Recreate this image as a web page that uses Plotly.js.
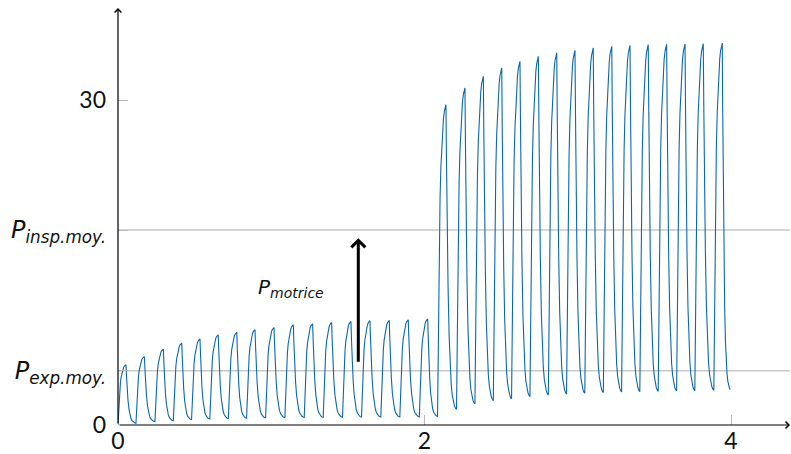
<!DOCTYPE html>
<html>
<head>
<meta charset="utf-8">
<script src="https://cdn.plot.ly/plotly-3.0.1.min.js"></script>
<style>html,body{margin:0;padding:0;background:#fff;}#chart{width:791px;height:454px;}</style>
</head>
<body>
<div id="chart"></div>
<script>
// ---- Data ----
// time of each cycle's pressure peak
const peakTimes = [0.052,0.172,0.296,0.416,0.535,0.654,0.775,0.894,1.018,1.144,1.270,1.394,1.520,1.644,1.770,1.894,2.021,
                   2.140,2.264,2.384,2.504,2.623,2.743,2.863,2.982,3.101,3.222,3.341,3.460,3.580,3.700,3.819,3.943];
// peak pressure of each cycle
const peakValues = [5.56,6.32,7.01,7.56,7.94,8.33,8.55,8.80,9.00,9.26,9.35,9.47,9.56,9.63,9.66,9.72,9.79,
                    29.57,31.12,32.19,32.97,33.58,34.04,34.35,34.59,34.81,34.96,35.05,35.12,35.15,35.18,35.21,35.26];
// pressure at the start of each cycle's rise (end of previous expiration)
const startValues = [0,0.16,0.31,0.40,0.50,0.56,0.60,0.63,0.66,0.68,0.70,0.71,0.72,0.73,0.74,0.74,0.75,
                     0.80,1.45,1.94,2.25,2.43,2.62,2.77,2.87,2.93,2.99,3.05,3.08,3.11,3.14,3.17,3.20];
const endTime = 3.995;
const endValue = 3.25;
const riseDuration = 0.055;
// normalised waveform shape of one inspiration / expiration
const riseT = [0,0.05,0.10,0.15,0.20,0.30,0.40,0.50,0.60,0.70,0.80,0.90,1];
const riseV = [0,0.12,0.28,0.43,0.55,0.70,0.80,0.87,0.92,0.955,0.978,0.993,1];
const fallT = [0,0.05,0.10,0.20,0.30,0.40,0.50,0.60,0.70,0.80,0.90,1];
const fallV = [0,0.18,0.35,0.60,0.76,0.86,0.92,0.955,0.975,0.988,0.996,1];
// tick labels
const xTickVals = [0,2,4];
const xTickText = ['0','2','4'];
const yTickVals = [0,5,18,30];
const yTickText = ['0',
  '<span style="font-family:\'DejaVu Sans\';font-size:24px"><i>P<sub>exp.moy.</sub></i></span>',
  '<span style="font-family:\'DejaVu Sans\';font-size:24px"><i>P<sub>insp.moy.</sub></i></span>',
  '30'];
const refLevels = [5,18];
const motriceLabel = '<i>P<sub>motrice</sub></i>';

// ---- Build the waveform ----
const xs = [], ys = [];
for (let i = 0; i < peakTimes.length; i++) {
  const tp = peakTimes[i], vp = peakValues[i], v0 = startValues[i];
  const tStart = Math.max(0, tp - riseDuration);
  for (let k = 0; k < riseT.length; k++) {
    xs.push(tStart + riseT[k] * (tp - tStart));
    ys.push(v0 + riseV[k] * (vp - v0));
  }
  const last = (i + 1 >= peakTimes.length);
  const tn = last ? endTime : peakTimes[i + 1] - riseDuration;
  const vn = last ? endValue : startValues[i + 1];
  for (let k = 1; k < fallT.length; k++) {
    xs.push(tp + fallT[k] * (tn - tp));
    ys.push(vp + fallV[k] * (vn - vp));
  }
}

const xMax = 4.385, yMax = 38.5;
const fontFam = 'Lato, "Open Sans", sans-serif';

const trace = {
  x: xs, y: ys, type: 'scatter', mode: 'lines',
  line: {color: '#0b67ad', width: 1.1},
  hoverinfo: 'skip', showlegend: false
};

const shapes = refLevels.map(v => ({
  type: 'line', xref: 'x', yref: 'y', x0: 0, x1: xMax, y0: v, y1: v,
  line: {color: '#c9c9c9', width: 1.5}, layer: 'below'
}));

const annotations = [
  {xref: 'paper', yref: 'paper', x: 1, y: 0, ax: -672, ay: 0, axref: 'pixel', ayref: 'pixel',
   text: '', showarrow: true, arrowhead: 4, arrowsize: 1.1, arrowwidth: 1.2, arrowcolor: '#000', standoff: 0},
  {xref: 'paper', yref: 'paper', x: 0, y: 1, ax: 0, ay: 417, axref: 'pixel', ayref: 'pixel',
   text: '', showarrow: true, arrowhead: 4, arrowsize: 1.1, arrowwidth: 1.2, arrowcolor: '#000', standoff: 0},
  {xref: 'x', yref: 'y', x: 1.568, y: 17.25, axref: 'x', ayref: 'y', ax: 1.568, ay: 5.7,
   text: '', showarrow: true, arrowhead: 4, arrowsize: 0.9, arrowwidth: 3, arrowcolor: '#000', standoff: 0},
  {xref: 'x', yref: 'y', x: 1.13, y: 12.66, text: motriceLabel, showarrow: false,
   font: {family: '"DejaVu Sans", sans-serif', size: 20, color: '#111'}}
];

const layout = {
  width: 791, height: 454,
  margin: {l: 118, r: 1, t: 8, b: 29, pad: 0},
  paper_bgcolor: '#fff', plot_bgcolor: '#fff',
  xaxis: {range: [0, xMax], tickvals: xTickVals, ticktext: xTickText,
          ticks: 'inside', ticklen: 10, tickwidth: 1, tickcolor: '#b8b8b8',
          showgrid: false, zeroline: false, showline: false,
          tickfont: {family: fontFam, size: 23, color: '#111'}, fixedrange: true},
  yaxis: {range: [0, yMax], tickvals: yTickVals, ticktext: yTickText,
          ticks: 'inside', ticklen: 10, tickwidth: 1, tickcolor: '#b8b8b8',
          showgrid: false, zeroline: false, showline: false, ticklabelstandoff: 11,
          tickfont: {family: fontFam, size: 23, color: '#111'}, fixedrange: true},
  shapes: shapes,
  annotations: annotations,
  showlegend: false
};

Plotly.newPlot('chart', [trace], layout, {staticPlot: true, displayModeBar: false});
</script>
</body>
</html>
